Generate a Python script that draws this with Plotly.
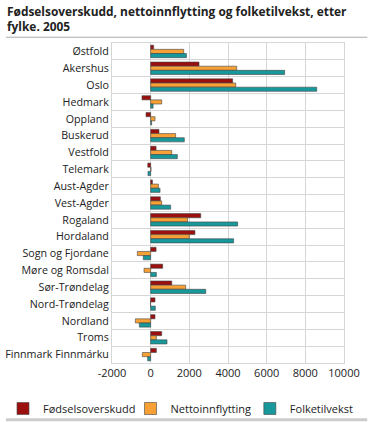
import plotly.graph_objects as go

categories = ["Østfold", "Akershus", "Oslo", "Hedmark", "Oppland", "Buskerud", "Vestfold",
              "Telemark", "Aust-Agder", "Vest-Agder", "Rogaland", "Hordaland",
              "Sogn og Fjordane", "Møre og Romsdal", "Sør-Trøndelag", "Nord-Trøndelag",
              "Nordland", "Troms", "Finnmark Finnmárku"]
fodsel = [155, 2500, 4240, -450, -240, 430, 280, -150, 90, 500, 2590, 2290, 280, 620, 1090, 225, 225, 570, 295]
netto = [1710, 4450, 4400, 570, 225, 1290, 1090, 20, 400, 570, 1910, 2000, -690, -345, 1810, -10, -790, 295, -430]
folke = [1850, 6930, 8590, 125, 50, 1740, 1380, -140, 485, 1035, 4500, 4290, -380, 295, 2850, 240, -585, 845, -155]
xticks = [-2000, 0, 2000, 4000, 6000, 8000, 10000]
series_names = ["Fødselsoverskudd", "Nettoinnflytting", "Folketilvekst"]
colors = ["#9b0f0f", "#f7a035", "#17989a"]

font = "Open Sans, DejaVu Sans, sans-serif"
pos = list(range(len(categories)))
legend_ids = ["legend", "legend2", "legend3"]
legend_x = [0.008, 0.349, 0.668]

fig = go.Figure()
for name, vals, col, lid in zip(series_names, [fodsel, netto, folke], colors, legend_ids):
    fig.add_trace(go.Bar(y=pos, x=vals, name=name, orientation="h", legend=lid,
                         marker=dict(color=col, line=dict(color="#444444", width=0.6))))

legend_common = dict(orientation="h", xref="container", yref="container", xanchor="left",
                     y=0.032, yanchor="middle", font=dict(size=11, family=font),
                     bgcolor="rgba(0,0,0,0)")
layout_legends = {lid: dict(x=lx, **legend_common) for lid, lx in zip(legend_ids, legend_x)}

fig.update_layout(
    width=374, height=422,
    margin=dict(l=112, r=30, t=43, b=59, autoexpand=False),
    paper_bgcolor="white", plot_bgcolor="white",
    barmode="group", bargap=0.26, bargroupgap=0,
    font=dict(family=font, size=10.7, color="#222222"),
    showlegend=True,
    xaxis=dict(range=[-2000, 10000], tickvals=xticks, ticktext=[str(v) for v in xticks],
               showgrid=True, gridcolor="#d6d6d6", gridwidth=1, zeroline=True,
               zerolinecolor="#d6d6d6", zerolinewidth=1, showline=True, linecolor="#d6d6d6",
               mirror=True, ticks="", tickfont=dict(size=11), automargin=False),
    yaxis=dict(range=[len(categories) - 0.5, -0.5], tickvals=pos, ticktext=categories,
               showgrid=False, zeroline=False, showline=True, linecolor="#d6d6d6", mirror=True,
               ticks="", tickfont=dict(size=10.7), automargin=False,
               minor=dict(tickvals=[i + 0.5 for i in pos[:-1]], showgrid=True,
                          gridcolor="#d6d6d6", gridwidth=1, ticks="")),
    annotations=[
        dict(text="<b>Fødselsoverskudd, nettoinnflytting og folketilvekst, etter<br>fylke. 2005</b>",
             xref="paper", yref="paper", x=-0.462, y=1.132, xanchor="left", yanchor="top",
             align="left", showarrow=False, font=dict(family=font, size=11.9, color="#222222")),
    ],
    shapes=[
        dict(type="line", xref="paper", yref="paper", x0=-0.457, x1=1.1, y0=1.018, y1=1.018,
             line=dict(color="#aaaaaa", width=1)),
        dict(type="line", xref="paper", yref="paper", x0=-0.457, x1=1.1, y0=-0.177, y1=-0.177,
             line=dict(color="#cccccc", width=3)),
    ],
    **layout_legends,
)
fig.write_html("out.html", config={"displayModeBar": False},
               post_script="document.body.style.margin='0';")
